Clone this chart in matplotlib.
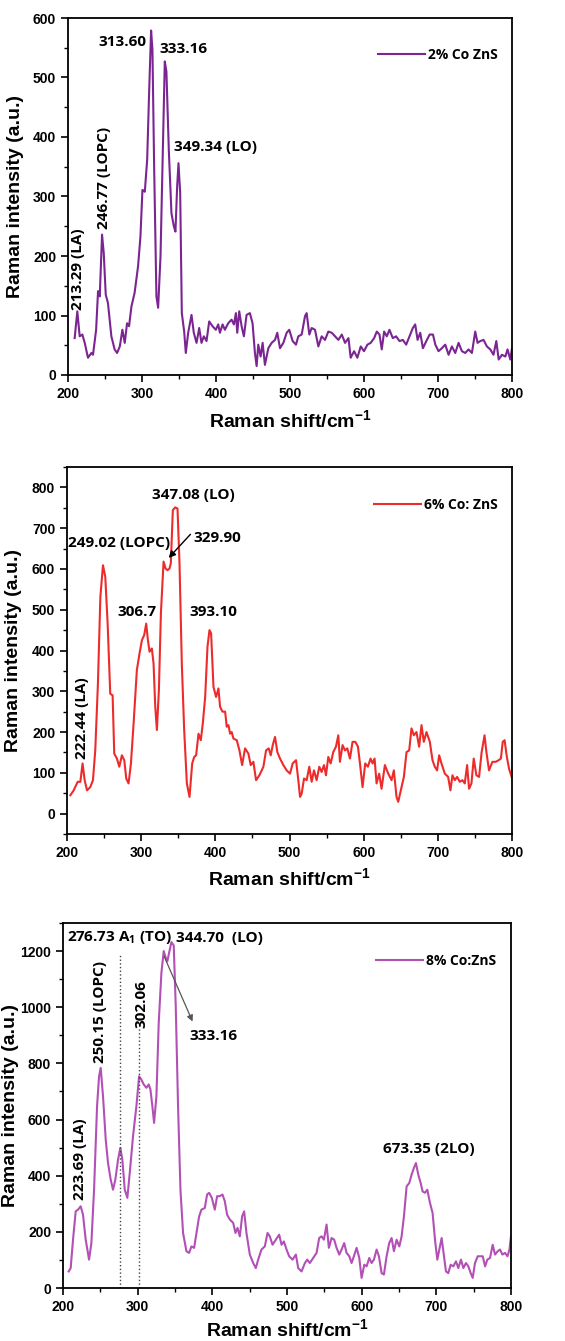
import numpy as np
import matplotlib
matplotlib.use('Agg')
import matplotlib.pyplot as plt
from matplotlib.ticker import MultipleLocator

plt.rcParams['font.family'] = ['Liberation Sans', 'DejaVu Sans']
plt.rcParams['font.weight'] = 'bold'
plt.rcParams['mathtext.fontset'] = 'custom'
plt.rcParams['mathtext.rm'] = 'Liberation Sans:bold'
plt.rcParams['mathtext.bf'] = 'Liberation Sans:bold'
plt.rcParams['mathtext.default'] = 'bf'

# 2% Co ZnS
x2 = [209, 212.6, 215.8, 219.4, 222.6, 227, 231.6, 233.8, 238, 240.6, 242.9, 246, 248.3, 251, 254,
      258.6, 263, 266.3, 270, 273.5, 276.7, 279.8, 282.5, 285.7, 290, 294.7, 297.9, 300.6, 303.8,
      307, 309.6, 312.3, 314.1, 316.4, 319.5, 321.8, 325, 327.7, 330.8, 333, 336.2, 339.8, 343,
      345.2, 347.5, 349.3, 351.6, 353.8, 357, 359.2, 362.4, 366.9, 370, 373.7, 377.3, 380.4, 383.6,
      387.2, 390.8, 395.3, 399.8, 403, 405.3, 408.9, 412, 416.5, 421, 424.2, 426.9, 428.7, 431.4,
      434.6, 437.7, 441.3, 445.8, 449.4, 452.6, 454.9, 457.1, 460.3, 463, 466.1, 470.7, 475.2,
      479.7, 482.8, 486.5, 491, 495.5, 499, 503.6, 508.1, 511.2, 515.8, 520.3, 522.5, 526.1, 529.3,
      533.8, 538.3, 542.8, 547.3, 551.8, 556.4, 560.9, 565.4, 570, 574.4, 579, 582, 586.6, 591,
      595.6, 600, 604.6, 609, 613.7, 617.3, 620.9, 624, 627.2, 630.8, 634.4, 638.9, 643.4, 648,
      652.5, 657, 661.5, 666, 669.2, 672.4, 676, 679.6, 684.2, 688.7, 693.2, 696.4, 700.7, 705.2,
      709.8, 714.3, 718.8, 723.3, 727.8, 732.3, 736.8, 741.3, 745.8, 750.3, 753.5, 757.1, 761.6,
      766.1, 770.6, 775, 778.8, 782, 786.4, 791, 794, 797.7, 800]
y2 = [62, 107, 65, 68, 54, 29, 37, 34, 76, 141, 132, 236, 205, 135, 121,
      65, 43, 37, 48, 76, 54, 87, 82, 115, 138, 183, 233, 311, 308,
      362, 474, 579, 547, 351, 132, 113, 199, 351, 527, 510, 379, 272, 250,
      241, 317, 356, 306, 104, 73, 37, 71, 101, 71, 54, 79, 54, 65,
      57, 90, 82, 76, 85, 71, 85, 76, 87, 93, 85, 104, 71, 107,
      82, 65, 101, 104, 87, 37, 15, 51, 31, 54, 17, 45, 54,
      59, 71, 45, 54, 71, 76, 57, 51, 65, 68, 99, 104, 68, 79,
      76, 48, 65, 59, 73, 71, 65, 59, 68, 54, 62, 29, 40, 29,
      48, 40, 51, 54, 62, 73, 68, 43, 73, 65, 76, 62, 65, 57,
      59, 51, 65, 79, 85, 59, 71, 45, 57, 68, 68, 51, 40, 45,
      51, 34, 48, 37, 54, 40, 37, 43, 37, 73, 54, 57, 59,
      48, 43, 34, 57, 26, 34, 31, 43, 26, 45]

# 6% Co: ZnS
x6 = [204.5, 209, 214.4, 218, 221, 223.8, 227, 231.4, 235, 238.1, 241.7, 245, 248.5, 251.6, 254.8,
      258.3, 261.5, 263.7, 267.3, 270.5, 274, 277.2, 279.9, 283, 286.2, 289.8, 294.2, 297.8, 301,
      304.1, 306.8, 309.1, 311.3, 314.4, 316.7, 319, 321.2, 323.9, 326.6, 330.2, 332.9, 335.5,
      338.2, 340, 342.7, 345.9, 349, 351.7, 354.8, 358, 361.6, 365.2, 368.8, 371.5, 374.1, 377.3,
      380.4, 383.1, 386.3, 389.4, 392.1, 394.3, 397.5, 401, 404.2, 406.4, 409.6, 413.2, 415.4,
      417.7, 419.9, 422.1, 424.4, 428.9, 432.5, 436.1, 440.1, 444.6, 447.7, 451.3, 454.9, 459.4,
      464.8, 468.4, 472, 474.7, 477.4, 480.5, 483.6, 487.2, 491.7, 496.2, 500.7, 504.3, 508.8,
      511.9, 514.2, 516.4, 519.6, 523.1, 526.7, 529.9, 533, 536.6, 540.2, 543.3, 546.5, 549.2,
      552.3, 555.5, 559, 562.6, 565.8, 568, 571.6, 574.8, 577.9, 581.5, 585, 588.7, 592.3, 595,
      598.5, 602.1, 605.7, 609.3, 612, 614.7, 617.4, 620.9, 624.1, 628.6, 633.1, 637.6, 640.7,
      644.3, 646.6, 651.1, 654.2, 657.8, 661.4, 664.5, 667.7, 671.2, 674.8, 678, 681.1, 684.7,
      689.2, 692.8, 695.9, 699, 701.8, 704.9, 709.4, 713.9, 717, 719.7, 722.8, 726, 729.6, 733.2,
      736.3, 739.5, 742.1, 745.3, 748.4, 752, 755.6, 759, 763, 765.5, 769, 773.6, 778, 782, 785,
      787.5, 790, 793, 796, 799.5]
y6 = [45, 57, 78, 78, 123, 82, 57, 65, 82, 155, 319, 532, 609, 581, 466,
      294, 290, 147, 135, 115, 143, 131, 86, 74, 123, 221, 352, 393, 425,
      438, 466, 425, 397, 405, 368, 262, 205, 303, 491, 618, 601, 597,
      601, 614, 744, 751, 748, 614, 368, 205, 74, 41, 123, 139, 143, 196,
      180, 221, 286, 409, 450, 442, 311, 286, 307, 262, 250, 250, 213,
      217, 196, 200, 184, 180, 155, 119, 160, 147, 119, 127, 82, 94,
      115, 155, 160, 143, 168, 188, 151, 135, 119, 106, 98, 123, 131,
      82, 41, 49, 86, 82, 115, 78, 106, 82, 115, 102, 119, 94,
      139, 123, 151, 164, 192, 127, 168, 155, 160, 135, 176, 176, 164, 123,
      65, 123, 115, 135, 123, 135, 74, 98, 61, 119, 98, 82, 106,
      41, 29, 65, 90, 151, 155, 209, 192, 200, 164, 217, 176, 200,
      176, 131, 115, 106, 143, 123, 98, 90, 57, 94, 82, 90, 78, 82,
      74, 119, 61, 74, 135, 94, 90, 150, 192, 151, 106, 127, 127, 131, 135,
      176, 180, 140, 110, 90]

# 8% Co:ZnS
x8 = [207.6, 210.3, 213.4, 217, 220.1, 223.7, 226.8, 230.4, 234.9, 238, 241.6, 245.6, 248.3, 250.5,
      253.6, 257.2, 260.3, 263.9, 267, 270.1, 273.7, 276.8, 279.5, 282.7, 286.2, 289.4, 293.8,
      298.3, 301.9, 305, 308.1, 311.7, 314.8, 317.1, 319.7, 322, 325.1, 328.2, 331.8, 334.9,
      337.6, 339.8, 342.1, 345.2, 348.3, 351, 354.1, 357.3, 360.8, 365.3, 368.9, 372, 375.6,
      378.7, 382.3, 385.4, 389.9, 393, 395.7, 399.3, 403.3, 406.4, 410, 413.6, 416.7, 419.8,
      423.4, 427.9, 431, 433.7, 436.8, 439.9, 442.6, 445.7, 450.2, 454.7, 458.2, 461.4, 465.8,
      470.3, 473.9, 477, 480.6, 485.1, 489.5, 492.7, 495.8, 499.4, 502.9, 507.4, 511.9, 515,
      519.5, 524, 527.1, 530.6, 535.1, 539.6, 543.1, 546.3, 549.4, 553, 556.1, 559.7, 563.2,
      566.4, 570, 573.1, 576.6, 579.8, 583.4, 586.5, 589.6, 593.2, 596.8, 599.9, 603.5, 606.6,
      610.2, 613.3, 616.4, 620, 623.1, 626.7, 629.8, 633.4, 636.9, 640.1, 643.2, 646.8, 650.4,
      653.5, 656.6, 660.2, 663.8, 666.9, 670, 672.7, 675.8, 679, 681.6, 684.8, 687.9, 691.5,
      695, 698.2, 701.3, 704, 707.1, 710.3, 712.9, 716, 719.2, 722.7, 726.3, 729.4, 733, 736.2,
      739.7, 742.9, 746, 748.7, 751.8, 755.4, 758.5, 762.1, 765.3, 768.3, 771.9, 775.5, 778.6,
      782.2, 785.3, 788.5, 792, 795.3, 797.9, 800]
y8 = [59, 71, 172, 273, 279, 291, 261, 172, 101, 160, 350, 647, 754, 784,
      683, 529, 445, 386, 350, 386, 457, 499, 457, 350, 321, 410, 541,
      647, 754, 742, 725, 713, 725, 707, 647, 588, 683, 944, 1123, 1200,
      1176, 1164, 1194, 1232, 1220, 1004, 647, 350, 196, 131, 125, 148, 143,
      196, 255, 279, 285, 333, 339, 321, 279, 327, 327, 333, 309, 261,
      244, 232, 196, 214, 184, 255, 273, 196, 119, 89, 71, 101, 137,
      148, 196, 184, 154, 172, 190, 154, 166, 137, 113, 101, 119, 71,
      59, 89, 101, 89, 107, 125, 178, 184, 172, 226, 143, 178, 172,
      143, 119, 137, 160, 125, 113, 89, 113, 143, 107, 36, 83, 77,
      107, 89, 101, 137, 113, 53, 48, 113, 160, 178, 131, 172, 148,
      184, 255, 362, 374, 404, 428, 445, 404, 374, 344, 339, 350, 303,
      267, 172, 101, 137, 178, 113, 59, 53, 83, 77, 95, 71, 101, 71,
      89, 77, 53, 36, 89, 113, 113, 113, 77, 101, 107, 154, 119,
      131, 137, 119, 125, 113, 137, 184]

W, H = 565, 1341
fig = plt.figure(figsize=(W / 100, H / 100), dpi=100)

ann = dict(fontsize=11, fontweight='bold', family=['Open Sans', 'DejaVu Sans'])


def px_axes(l, r, t, b):
    return fig.add_axes([l / W, 1 - b / H, (r - l) / W, (b - t) / H])


def style(ax, ylim, ymaj, ymin, lbl_x, xpad):
    ax.set_xlim(200, 800)
    ax.set_ylim(*ylim)
    ax.xaxis.set_major_locator(MultipleLocator(100))
    ax.xaxis.set_minor_locator(MultipleLocator(50))
    ax.yaxis.set_major_locator(MultipleLocator(ymaj))
    ax.yaxis.set_minor_locator(MultipleLocator(ymin))
    ax.tick_params(which='major', direction='out', length=5, width=1.2, labelsize=10)
    ax.tick_params(which='minor', direction='out', length=3, width=1)
    for lab in ax.get_xticklabels() + ax.get_yticklabels():
        lab.set_fontweight('bold')
    for s in ax.spines.values():
        s.set_linewidth(1.3)
    ax.set_xlabel(r'Raman shift/cm$^{-1}$', fontsize=14, fontweight='bold', labelpad=xpad)
    ax.set_ylabel('Raman intensity (a.u.)', fontsize=14, fontweight='bold')
    ax.yaxis.set_label_coords(lbl_x, 0.5)
    ax.legend(loc='upper right', frameon=False, handlelength=3.4, handletextpad=0.2,
              bbox_to_anchor=(0.995, 0.95), prop=dict(weight='bold', size=10, family='Open Sans'))


# panel 1
ax1 = px_axes(68, 512, 18, 375)
ax1.plot(x2, y2, color='#7b2592', lw=1.5, label='2% Co ZnS')
style(ax1, (0, 600), 100, 50, -0.1, 6)
ax1.text(306, 560, '313.60', ha='right', va='center', **ann)
ax1.text(323, 548, '333.16', ha='left', va='center', **ann)
ax1.text(343, 383, '349.34 (LO)', ha='left', va='center', **ann)
ax1.text(248.5, 245, '246.77 (LOPC)', rotation=90, ha='center', va='bottom', **ann)
ax1.text(213.5, 110, '213.29 (LA)', rotation=90, ha='center', va='bottom', **ann)

# panel 2
ax2 = px_axes(67, 512, 467, 834)
ax2.plot(x6, y6, color='#ee2b2b', lw=1.5, label='6% Co: ZnS')
style(ax2, (-50, 850), 100, 50, -0.1, 5)
ax2.text(314, 781, '347.08 (LO)', ha='left', va='center', **ann)
ax2.text(202, 663, '249.02 (LOPC)', ha='left', va='center', **ann)
ax2.text(371, 675, '329.90', ha='left', va='center', **ann)
ax2.annotate('', xy=(334.5, 622), xytext=(369, 690),
             arrowprops=dict(arrowstyle='-|>', color='black', lw=1.0, mutation_scale=10))
ax2.text(321, 495, '306.7', ha='right', va='center', **ann)
ax2.text(364.5, 495, '393.10', ha='left', va='center', **ann)
ax2.text(220.2, 135, '222.44 (LA)', rotation=90, ha='center', va='bottom', **ann)

# panel 3
ax3 = px_axes(63, 511, 923, 1288)
ax3.plot(x8, y8, color='#b350b6', lw=1.5, label='8% Co:ZnS')
style(ax3, (0, 1300), 200, 100, -0.098, 3)
ax3.plot([276.73, 276.73], [0, 1188], ls=':', color='#444444', lw=1.0)
ax3.plot([302.06, 302.06], [0, 925], ls=':', color='#444444', lw=1.0)
ax3.text(205.5, 1247, r'276.73 A$_{\mathregular{1}}$ (TO)', ha='left', va='center', **ann)
ax3.text(352, 1247, '344.70  (LO)', ha='left', va='center', **ann)
ax3.text(370, 897, '333.16', ha='left', va='center', **ann)
ax3.annotate('', xy=(375, 940), xytext=(334, 1190),
             arrowprops=dict(arrowstyle='-|>', color='#555555', lw=0.9, mutation_scale=9))
ax3.text(250, 802, '250.15 (LOPC)', rotation=90, ha='center', va='bottom', **ann)
ax3.text(305, 927, '302.06', rotation=90, ha='center', va='bottom', **ann)
ax3.text(222.3, 315, '223.69 (LA)', rotation=90, ha='center', va='bottom', **ann)
ax3.text(628, 495, '673.35 (2LO)', ha='left', va='center', **ann)

fig.savefig('out.png', dpi=100)
